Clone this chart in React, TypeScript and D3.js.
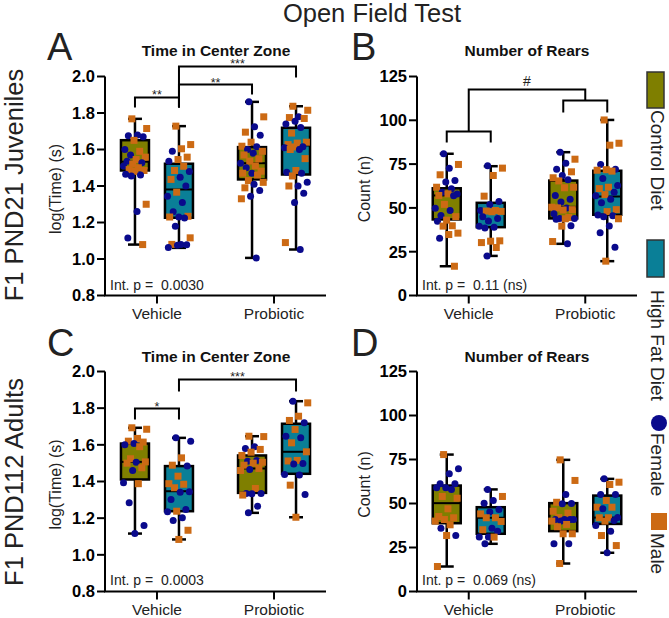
import React from 'react';
import * as d3 from 'd3';

// ---------- categories ----------
const GROUPS = ['Vehicle', 'Probiotic'];
const DIETS = ['Control Diet', 'High Fat Diet'];
const SEX_LABELS = ['Female', 'Male'];

// ---------- Panel A: Time in Center Zone (PND21) ----------
const A_TICKS = [0.8, 1.0, 1.2, 1.4, 1.6, 1.8, 2.0];
const A_CV_F = [1.68, 1.675, 1.67, 1.60, 1.57, 1.535, 1.527, 1.51, 1.465, 1.46, 1.455, 1.26, 1.115];
const A_CV_M = [1.768, 1.715, 1.65, 1.59, 1.558, 1.545, 1.52, 1.50, 1.49, 1.485, 1.48, 1.30, 1.079];
const A_HV_F = [1.59, 1.535, 1.48, 1.448, 1.40, 1.344, 1.31, 1.259, 1.23, 1.225, 1.18, 1.08, 1.078, 1.075, 1.063];
const A_HV_M = [1.728, 1.627, 1.604, 1.558, 1.545, 1.508, 1.485, 1.436, 1.366, 1.234, 1.23, 1.116, 1.08];
const A_CP_F = [1.861, 1.724, 1.678, 1.615, 1.60, 1.58, 1.525, 1.50, 1.47, 1.41, 1.375, 1.344, 1.006];
const A_CP_M = [1.779, 1.695, 1.64, 1.618, 1.59, 1.57, 1.549, 1.536, 1.51, 1.481, 1.47, 1.46, 1.43, 1.42, 1.39, 1.33];
const A_HP_F = [1.78, 1.755, 1.74, 1.72, 1.615, 1.61, 1.60, 1.475, 1.47, 1.42, 1.40, 1.36, 1.31, 1.052];
const A_HP_M = [1.837, 1.815, 1.775, 1.77, 1.69, 1.64, 1.635, 1.627, 1.614, 1.60, 1.55, 1.485, 1.455, 1.40, 1.09];
// [min, q1, median, q3, max] for Vehicle-Control, Vehicle-HFD, Probiotic-Control, Probiotic-HFD
const A_BOX = [
  [1.079, 1.485, 1.533, 1.651, 1.768],
  [1.061, 1.226, 1.381, 1.522, 1.728],
  [1.006, 1.436, 1.525, 1.613, 1.861],
  [1.052, 1.463, 1.622, 1.719, 1.837],
];

// ---------- Panel B: Number of Rears (PND21) ----------
const B_TICKS = [0, 25, 50, 75, 100, 125];
const B_CV_F = [80.9, 72.7, 65.6, 64.8, 60.9, 59, 58, 57, 49.8, 48.5, 45.7, 42.4, 32.7];
const B_CV_M = [74.8, 68.9, 61.8, 58, 57.1, 52, 45, 43, 39.8, 39.6, 35.6, 34.8, 16.7];
const B_HV_F = [74, 53.7, 52, 48.5, 45, 44, 42.5, 39.5, 39, 38.5, 22.6];
const B_HV_M = [72.7, 68.5, 56.7, 48.5, 48.2, 48, 47.8, 31.2, 31, 30.2, 27.4];
const B_CP_F = [81.8, 75.5, 72, 68.5, 66, 57.1, 55, 53.3, 50, 46.6, 44, 44, 43.5, 39.8, 29.5];
const B_CP_M = [77.8, 70.6, 67.2, 65.4, 61.8, 61.5, 50.4, 50, 49, 48.8, 44.5, 43.8, 39.6, 30.8];
const B_HP_F = [74.8, 72, 66.8, 62.8, 59, 57, 55, 53, 46, 45.5, 45, 39.6, 35.8, 27.6];
const B_HP_M = [100.2, 86.9, 85.8, 71.8, 71.5, 71, 61.8, 61, 57.6, 49, 47.9, 43.8, 19.6];
const B_BOX = [
  [16.7, 43.4, 57.1, 61.2, 80.9],
  [22.6, 39, 48, 52.9, 73.8],
  [29.5, 44, 50.6, 65.6, 81.8],
  [19.6, 46.1, 56.5, 71.2, 100.2],
];

// ---------- Panel C: Time in Center Zone (PND112) ----------
const C_TICKS = [0.8, 1.0, 1.2, 1.4, 1.6, 1.8, 2.0];
const C_CV_F = [1.607, 1.60, 1.505, 1.46, 1.393, 1.284, 1.16, 1.116];
const C_CV_M = [1.693, 1.685, 1.635, 1.62, 1.615, 1.59, 1.524, 1.507, 1.50, 1.475, 1.388];
const C_HV_F = [1.638, 1.62, 1.485, 1.344, 1.342, 1.302, 1.247, 1.235, 1.202, 1.187];
const C_HV_M = [1.529, 1.489, 1.429, 1.388, 1.385, 1.366, 1.238, 1.134, 1.084];
const C_CP_F = [1.59, 1.58, 1.515, 1.51, 1.466, 1.335, 1.335, 1.333, 1.265, 1.229];
const C_CP_M = [1.647, 1.645, 1.575, 1.56, 1.542, 1.505, 1.50, 1.489, 1.471, 1.46, 1.362, 1.326];
const C_HP_F = [1.838, 1.72, 1.647, 1.638, 1.498, 1.495, 1.438, 1.436, 1.329];
const C_HP_M = [1.829, 1.756, 1.733, 1.684, 1.611, 1.562, 1.515, 1.512, 1.38, 1.205];
const C_BOX = [
  [1.116, 1.411, 1.507, 1.607, 1.693],
  [1.084, 1.238, 1.347, 1.484, 1.638],
  [1.229, 1.338, 1.471, 1.542, 1.647],
  [1.205, 1.442, 1.562, 1.715, 1.838],
];

// ---------- Panel D: Number of Rears (PND112) ----------
const D_TICKS = [0, 25, 50, 75, 100, 125];
const D_CV_F = [69.7, 66.9, 61.2, 61.2, 58.9, 58.9, 58, 36, 31.8];
const D_CV_M = [77.8, 54, 53, 47, 42.6, 41.9, 40.9, 40, 37.9, 31.8, 14.2];
const D_HV_F = [58, 51.7, 50.2, 46.6, 45.1, 36, 34.3, 31, 30.9, 27.1];
const D_HV_M = [54, 44.1, 41.9, 41.9, 39.8, 35.1, 30.9];
const D_CP_F = [55.1, 50, 49.8, 40.9, 40.9, 40.9, 40.9, 40, 27.1, 27.1];
const D_CP_M = [74.8, 63.1, 50.7, 45.6, 44.5, 42, 40, 38.1, 36.8, 32.8, 32.8, 15.9];
const D_HP_F = [64, 55.1, 55.1, 47, 42, 40.3, 37.5, 34.3, 22];
const D_HP_M = [62.1, 60.8, 51.7, 47.9, 47.9, 41.9, 41.9, 40, 31.8, 26.1];
const D_BOX = [
  [14.2, 38.8, 50.2, 60.2, 77.8],
  [27.1, 32.8, 41.9, 47.9, 58],
  [15.9, 34.3, 41, 50.2, 74.8],
  [22, 38.4, 42, 54.5, 64],
];

// ---------- significance annotations (data units) ----------
const A_BRACKETS = [
  { a: ['Vehicle', 'Control Diet'], b: ['Vehicle', 'High Fat Diet'], top: 1.885, legA: 1.83, legB: 1.83, label: '**' },
  { a: ['Vehicle', 'High Fat Diet'], b: ['Probiotic', 'Control Diet'], top: 1.956, legA: 1.83, legB: 1.901, label: '**' },
  { a: ['Vehicle', 'High Fat Diet'], b: ['Probiotic', 'High Fat Diet'], top: 2.055, legA: 1.83, legB: 1.995, label: '***' },
];
const C_BRACKETS = [
  { a: ['Vehicle', 'Control Diet'], b: ['Vehicle', 'High Fat Diet'], top: 1.798, legA: 1.738, legB: 1.738, label: '*' },
  { a: ['Vehicle', 'High Fat Diet'], b: ['Probiotic', 'High Fat Diet'], top: 1.957, legA: 1.891, legB: 1.891, label: '***' },
];
const B_NESTED = { left: { top: 93.6, leg: 87.3 }, right: { top: 111.3, leg: 104.5 }, top: 117.6, label: '#' };

// ---------- style ----------
const OLIVE = '#7f7f00';
const TEAL = '#0a7f97';
const NAVY = '#0a0a8c';
const ORANGE = '#cc6a14';
const FONT = "Arial, 'Liberation Sans', Helvetica, sans-serif";
const DIET_COLORS = [OLIVE, TEAL];

const COLS = [
  { axisX: 105, axisEnd: 326, letterX: 47, titleX: 216, ylabelX: 57 },
  { axisX: 417, axisEnd: 637, letterX: 351, titleX: 527, ylabelX: 366 },
];
const ROWS = [
  { top: 76.5, bottom: 295.5, letterY: 60, titleY: 56, xlabY: 319, pY: 290 },
  { top: 371.5, bottom: 591.5, letterY: 356, titleY: 362, xlabY: 615, pY: 585 },
];

const PANELS = [
  { id: 'A', col: 0, row: 0, title: 'Time in Center Zone', ylabel: 'log(Time) (s)', domain: [0.8, 2.0], ticks: A_TICKS, fmt: '.1f', box: A_BOX,
    pts: [[A_CV_F, A_CV_M], [A_HV_F, A_HV_M], [A_CP_F, A_CP_M], [A_HP_F, A_HP_M]], pText: 'Int. p =  0.0030', brackets: A_BRACKETS, nested: null },
  { id: 'B', col: 1, row: 0, title: 'Number of Rears', ylabel: 'Count (n)', domain: [0, 125], ticks: B_TICKS, fmt: 'd', box: B_BOX,
    pts: [[B_CV_F, B_CV_M], [B_HV_F, B_HV_M], [B_CP_F, B_CP_M], [B_HP_F, B_HP_M]], pText: 'Int. p =  0.11 (ns)', brackets: [], nested: B_NESTED },
  { id: 'C', col: 0, row: 1, title: 'Time in Center Zone', ylabel: 'log(Time) (s)', domain: [0.8, 2.0], ticks: C_TICKS, fmt: '.1f', box: C_BOX,
    pts: [[C_CV_F, C_CV_M], [C_HV_F, C_HV_M], [C_CP_F, C_CP_M], [C_HP_F, C_HP_M]], pText: 'Int. p =  0.0003', brackets: C_BRACKETS, nested: null },
  { id: 'D', col: 1, row: 1, title: 'Number of Rears', ylabel: 'Count (n)', domain: [0, 125], ticks: D_TICKS, fmt: 'd', box: D_BOX,
    pts: [[D_CV_F, D_CV_M], [D_HV_F, D_HV_M], [D_CP_F, D_CP_M], [D_HP_F, D_HP_M]], pText: 'Int. p =  0.069 (ns)', brackets: [], nested: null },
];

const BOX_W = 28;
const CAP_W = 14;
const JITTER = 24;

function Panel({ cfg }: { cfg: any }) {
  const col = COLS[cfg.col];
  const row = ROWS[cfg.row];
  const y = d3.scaleLinear().domain(cfg.domain).range([row.bottom, row.top]);
  const x = d3.scalePoint<string>().domain(GROUPS).range([col.axisX, col.axisEnd]).padding(0.444);
  const sub = d3.scaleBand<string>().domain(DIETS).range([-44, 44]);
  const cx = (g: string, d: string) => (x(g) as number) + (sub(d) as number) + sub.bandwidth() / 2;
  const fmt = d3.format(cfg.fmt);
  const cells = GROUPS.flatMap((g) => DIETS.map((d, di) => ({ g, d, di })));
  const midY = (row.top + row.bottom) / 2 + 3;

  return (
    <g fontFamily={FONT}>
      <text x={col.letterX} y={row.letterY} fontSize={38} fill="#222">{cfg.id}</text>
      <text x={col.titleX} y={row.titleY} fontSize={15.5} fontWeight="bold" textAnchor="middle" fill="#111">{cfg.title}</text>
      <text transform={`translate(${col.ylabelX},${midY}) rotate(-90)`} fontSize={16} textAnchor="middle" dominantBaseline="middle" fill="#222">{cfg.ylabel}</text>

      {/* y axis */}
      <line x1={col.axisX} x2={col.axisX} y1={y(cfg.domain[1])} y2={y(cfg.domain[0])} stroke="#000" strokeWidth={2} />
      {cfg.ticks.map((t: number) => (
        <g key={t}>
          <line x1={col.axisX - 8} x2={col.axisX} y1={y(t)} y2={y(t)} stroke="#000" strokeWidth={2} />
          <text x={col.axisX - 10} y={y(t)} dy="0.36em" textAnchor="end" fontSize={16.5} fontWeight="bold" fill="#000">{fmt(t)}</text>
        </g>
      ))}
      {/* x axis */}
      <line x1={col.axisX - 1} x2={col.axisEnd} y1={row.bottom} y2={row.bottom} stroke="#000" strokeWidth={2} />
      {GROUPS.map((g) => (
        <g key={g}>
          <line x1={x(g)} x2={x(g)} y1={row.bottom} y2={row.bottom + 8} stroke="#000" strokeWidth={2} />
          <text x={x(g)} y={row.xlabY} textAnchor="middle" fontSize={15.5} fill="#222">{g}</text>
        </g>
      ))}

      {/* boxes */}
      {cells.map((c, i) => {
        const [mn, q1, md, q3, mx] = cfg.box[i];
        const X = cx(c.g, c.d);
        return (
          <g key={`b${i}`}>
            <line x1={X} x2={X} y1={y(mx)} y2={y(q3)} stroke="#000" strokeWidth={2.5} />
            <line x1={X} x2={X} y1={y(q1)} y2={y(mn)} stroke="#000" strokeWidth={2.5} />
            <line x1={X - CAP_W / 2} x2={X + CAP_W / 2} y1={y(mx)} y2={y(mx)} stroke="#000" strokeWidth={2.5} />
            <line x1={X - CAP_W / 2} x2={X + CAP_W / 2} y1={y(mn)} y2={y(mn)} stroke="#000" strokeWidth={2.5} />
            <rect x={X - BOX_W / 2} y={y(q3)} width={BOX_W} height={y(q1) - y(q3)} fill={DIET_COLORS[c.di]} stroke="#000" strokeWidth={2.5} />
            <line x1={X - BOX_W / 2} x2={X + BOX_W / 2} y1={y(md)} y2={y(md)} stroke="#000" strokeWidth={2} />
          </g>
        );
      })}

      {/* points */}
      {cells.map((c, i) => {
        const X = cx(c.g, c.d);
        const [fem, mal] = cfg.pts[i];
        const all = [
          ...fem.map((v: number) => ({ v, s: 0 })),
          ...mal.map((v: number) => ({ v, s: 1 })),
        ].sort((p, q) => q.v - p.v);
        return (
          <g key={`p${i}`}>
            {all.map((p, k) => {
              const off = (((k * 0.618034 + 0.37) % 1) - 0.5) * JITTER;
              const px = X + off;
              const py = y(p.v);
              return p.s === 0 ? (
                <circle key={k} cx={px} cy={py} r={3.5} fill={NAVY} />
              ) : (
                <rect key={k} x={px - 3.5} y={py - 3.5} width={7} height={7} fill={ORANGE} />
              );
            })}
          </g>
        );
      })}

      {/* significance brackets */}
      {cfg.brackets.map((b: any, i: number) => {
        const xa = cx(b.a[0], b.a[1]);
        const xb = cx(b.b[0], b.b[1]);
        return (
          <g key={`s${i}`}>
            <path d={`M${xa},${y(b.legA)}V${y(b.top)}H${xb}V${y(b.legB)}`} fill="none" stroke="#000" strokeWidth={2} />
            <text x={(xa + xb) / 2} y={y(b.top) + 2} textAnchor="middle" fontSize={12.5} fill="#222">{b.label}</text>
          </g>
        );
      })}
      {cfg.nested && (() => {
        const n = cfg.nested;
        const xv = x('Vehicle') as number;
        const xp = x('Probiotic') as number;
        const l1 = cx('Vehicle', DIETS[0]);
        const l2 = cx('Vehicle', DIETS[1]);
        const r1 = cx('Probiotic', DIETS[0]);
        const r2 = cx('Probiotic', DIETS[1]);
        return (
          <g fill="none" stroke="#000" strokeWidth={2}>
            <path d={`M${l1},${y(n.left.leg)}V${y(n.left.top)}H${l2}V${y(n.left.leg)}`} />
            <path d={`M${r1},${y(n.right.leg)}V${y(n.right.top)}H${r2}V${y(n.right.leg)}`} />
            <path d={`M${xv},${y(n.left.top)}V${y(n.top)}H${xp}V${y(n.right.top)}`} />
            <text x={(xv + xp) / 2} y={y(n.top) - 3} textAnchor="middle" fontSize={14} fill="#222" stroke="none" fontFamily={FONT}>{n.label}</text>
          </g>
        );
      })()}

      <text x={col.axisX + 5} y={row.pY} fontSize={14} fill="#222" style={{ whiteSpace: 'pre' }}>{cfg.pText}</text>
    </g>
  );
}

function Legend() {
  return (
    <g fontFamily={FONT} fontSize={19} fill="#222">
      <rect x={647} y={72} width={17} height={36} fill={OLIVE} stroke="#333" strokeWidth={1.5} />
      <text transform="translate(651,110) rotate(90)">{DIETS[0]}</text>
      <rect x={647} y={240} width={17} height={37} fill={TEAL} stroke="#333" strokeWidth={1.5} />
      <text transform="translate(651,290) rotate(90)">{DIETS[1]}</text>
      <circle cx={659} cy={423} r={8} fill={NAVY} />
      <text transform="translate(651,433) rotate(90)">{SEX_LABELS[0]}</text>
      <rect x={651} y={513} width={16} height={17} fill={ORANGE} />
      <text transform="translate(651,533) rotate(90)">{SEX_LABELS[1]}</text>
    </g>
  );
}

export default function App() {
  return (
    <svg width={669} height={618} style={{ position: 'absolute', left: 0, top: 0, background: '#fff' }}>
      <rect width={669} height={618} fill="#fff" />
      <text x={372} y={22} fontFamily={FONT} fontSize={25.5} textAnchor="middle" fill="#222">Open Field Test</text>
      <text transform="translate(23,185) rotate(-90)" fontFamily={FONT} fontSize={25.5} textAnchor="middle" fill="#222">F1 PND21 Juveniles</text>
      <text transform="translate(23,482) rotate(-90)" fontFamily={FONT} fontSize={25.5} textAnchor="middle" fill="#222">F1 PND112 Adults</text>
      {PANELS.map((p) => (
        <Panel key={p.id} cfg={p} />
      ))}
      <Legend />
    </svg>
  );
}
